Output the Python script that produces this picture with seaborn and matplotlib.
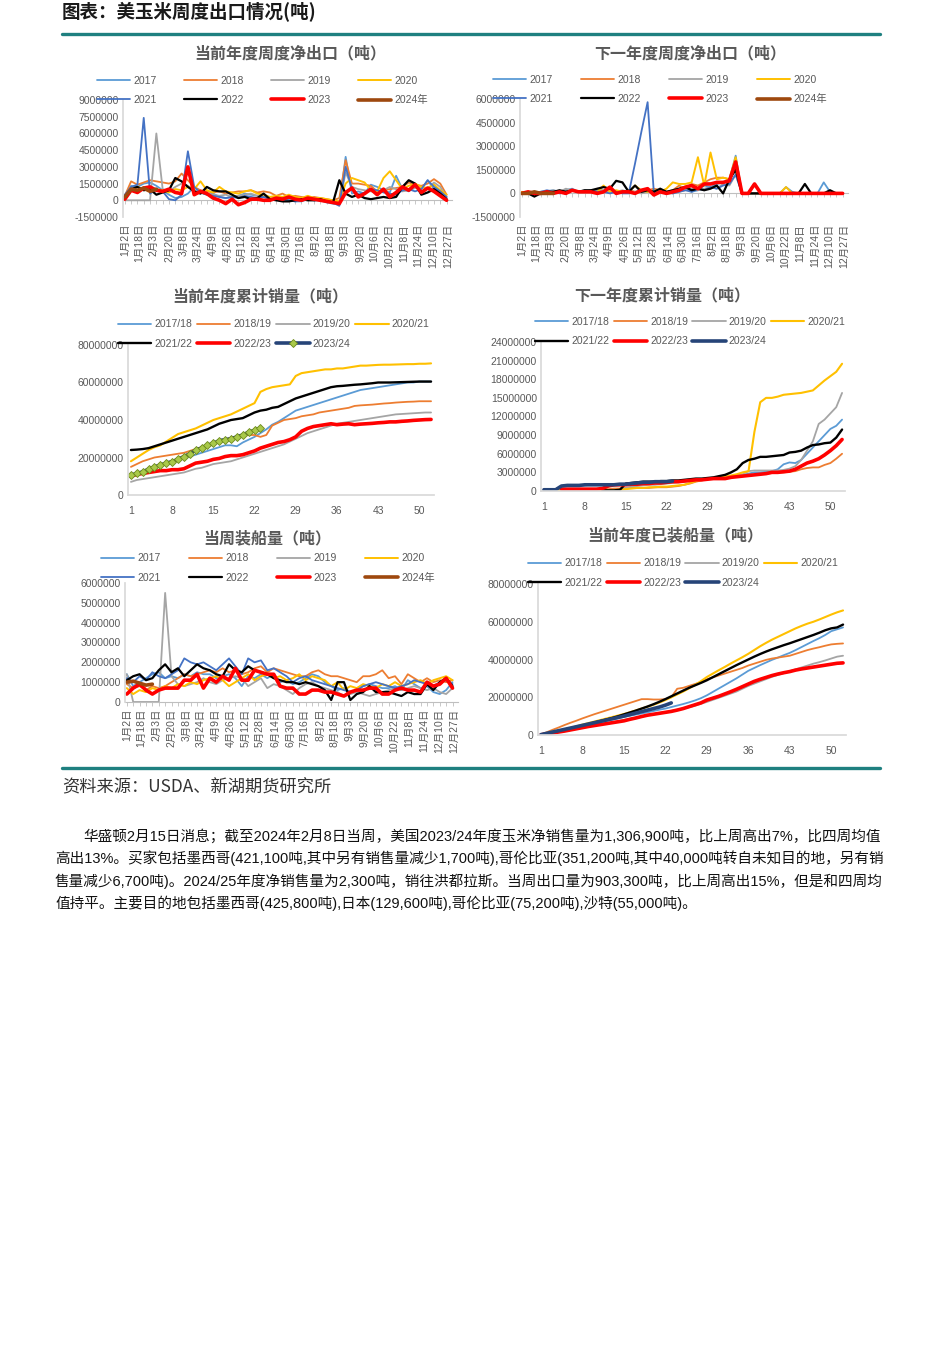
import re
import numpy as np
import pandas as pd
import seaborn as sns
import matplotlib.pyplot as plt
from matplotlib.lines import Line2D
from matplotlib.ticker import FuncFormatter

W, H = 950, 1345

# ---- labels ----
DATE_LABELS = ["1月2日", "1月18日", "2月3日", "2月20日", "3月8日", "3月24日", "4月9日",
               "4月26日", "5月12日", "5月28日", "6月14日", "6月30日", "7月16日", "8月2日",
               "8月18日", "9月3日", "9月20日", "10月6日", "10月22日", "11月8日", "11月24日",
               "12月10日", "12月27日"]
WEEK_TICKS = [1, 8, 15, 22, 29, 36, 43, 50]
WEEK_NAMES = ["2017", "2018", "2019", "2020", "2021", "2022", "2023", "2024年"]
CROP_NAMES = ["2017/18", "2018/19", "2019/20", "2020/21", "2021/22", "2022/23", "2023/24"]

# ---- 当前年度周度净出口 (千吨) ----
cur_2017 = [300, 1300, 1200, 1500, 1600, 1300, 900, 500, 200, 300,
            600, 1200, 700, 500, 600, 300, 200, 300, 400, 600,
            500, 400, 300, 300, 200, 100, 0, -100, -100, 100,
            0, 0, -200, -300, -400, 3900, 600, 800, 600, 1400,
            1200, 900, 700, 2200, 1000, 800, 1200, 1000, 1800, 1000,
            900, 200]
cur_2018 = [400, 1700, 1400, 1600, 1800, 1700, 1600, 1500, 1700, 2400,
            1800, 1200, 900, 800, 700, 800, 600, 700, 800, 800,
            900, 700, 800, 700, 400, 600, 300, 400, 300, 200,
            300, 200, 100, 0, 200, 3600, 1500, 1500, 1400, 1300,
            800, 900, 1000, 1100, 1200, 1600, 1400, 1300, 1500, 1900,
            1500, 500]
cur_2019 = [0, 0, 0, 0, 0, 6000, 1000, 800, 1200, 1500,
            1300, 900, 700, 600, 500, 400, 500, 300, 400, 500,
            600, 400, 300, 300, 200, 300, 200, 100, 100, 200,
            100, 0, -100, -200, -300, 2500, 1200, 1000, 900, 800,
            700, 900, 1200, 1000, 800, 900, 1100, 1200, 1000, 1600,
            1200, 300]
cur_2020 = [200, 900, 1200, 1000, 800, 1000, 900, 700, 1000, 900,
            1200, 1000, 1700, 900, 700, 1200, 800, 700, 600, 800,
            900, 600, 500, 300, 400, 300, 500, 300, 200, 400,
            200, 200, 100, 0, -100, 1500, 2000, 1800, 1600, 900,
            800, 2000, 2600, 1800, 1000, 1300, 1500, 1200, 1100, 1400,
            900, 500]
cur_2021 = [500, 1200, 1400, 7400, 600, 1000, 800, 100, 0, 500,
            4400, 1200, 700, 500, 400, 300, 200, 300, 200, 400,
            300, 200, 300, 100, 0, 200, 0, -100, 0, 100,
            0, 0, -100, -200, -500, 3000, 1000, 500, 700, 1000,
            900, 700, 600, 500, 900, 1000, 800, 1000, 1800, 1200,
            800, 300]
cur_2022 = [200, 1000, 1200, 900, 1000, 500, 700, 900, 2000, 1700,
            1200, 800, 600, 1200, 900, 800, 800, 500, 200, 300,
            100, 200, 600, 100, 0, -100, -100, 0, 100, 0,
            0, 100, -100, -200, 1800, 600, 300, 500, 200, 100,
            200, 300, 200, 300, 1200, 1800, 1500, 500, 700, 1000,
            600, 100]
cur_2023 = [100, 900, 700, 1100, 1200, 900, 800, 1000, 700, 600,
            3000, 500, 800, 600, 200, 0, -300, 100, -400, -200,
            100, 100, 0, 0, 200, 100, 300, 100, 0, 200,
            100, 0, -100, -200, -300, 700, 1100, 300, 600, 1000,
            500, 1000, 300, 700, 1200, 900, 1400, 700, 1100, 800,
            400, 0]
cur_2024 = [300, 1000, 900, 1100, 800, 1000]

# ---- 下一年度周度净出口 (千吨) ----
nxt_2017 = [0, 0, 0, 100, 150, 200, 100, 200, 300, 100,
            150, 100, 200, 150, 300, 100, 100, 150, 100, 200,
            100, 150, 200, 100, 100, 300, 400, 100, 200, 500,
            400, 600, 700, 900, 2400, 0, 0, 0, 0, 0,
            0, 0, 400, 100, 0, 0, 0, 0, 700, 100,
            0, 0]
nxt_2018 = [0, 0, 50, 100, 100, 100, 150, 100, 200, 150,
            100, 200, 100, 100, 150, 100, 100, 200, 100, 150,
            200, 300, 200, 100, 200, 500, 300, 600, 500, 700,
            900, 1000, 1000, 900, 1500, 0, 0, 0, 0, 0,
            0, 0, 0, 0, 0, 0, 0, 0, 0, 0,
            0, 0]
nxt_2019 = [0, 0, 0, 100, 100, 200, 100, 300, 200, 100,
            200, 100, 300, 200, 100, 100, 200, 100, 100, 0,
            100, 200, 100, 0, 0, 100, 200, 300, 200, 300,
            400, 300, 600, 500, 1200, 0, 0, 0, 0, 0,
            0, 0, 0, 0, 0, 0, 0, 0, 0, 0,
            0, 0]
nxt_2020 = [100, 0, 100, 0, 0, 100, 50, 100, 200, 100,
            100, 100, 100, 500, 100, 200, 100, 100, 500, 200,
            100, 200, 100, 300, 700, 600, 600, 700, 2300, 500,
            2600, 900, 1000, 900, 2300, 0, 0, 0, 0, 0,
            0, 0, 400, 0, 0, 0, 0, 0, 0, 0,
            0, 0]
nxt_2021 = [0, 0, 0, 100, 200, 100, 0, 100, 200, 100,
            100, 200, 100, 100, 0, 100, 0, 0, 1900, 3900,
            5800, 0, 100, 100, 0, 100, 200, 100, 300, 200,
            400, 300, 500, 600, 1200, 0, 0, 0, 0, 0,
            0, 0, 0, 0, 0, 0, 0, 0, 0, 0,
            0, 0]
nxt_2022 = [0, 0, -200, 0, 100, 100, 200, 100, 200, 100,
            200, 200, 300, 400, 300, 800, 700, 100, 500, 100,
            200, 100, 300, 100, 200, 300, 400, 200, 300, 200,
            300, 500, 0, 900, 1500, 0, 0, 0, 0, 0,
            0, 0, 0, 0, 0, 600, 0, 0, 0, 200,
            0, 0]
nxt_2023 = [0, 100, 0, 0, 100, 0, 100, 0, 200, 100,
            100, 100, 0, 100, 400, 0, 100, 100, 0, 200,
            300, -100, 100, 0, 100, 200, 400, 500, 300, 600,
            600, 700, 700, 800, 2000, 0, 0, 600, 0, 0,
            0, 0, 0, 0, 0, 0, 0, 0, 0, 0,
            0, 0]
nxt_2024 = [0, 0, 100, 0, 0, 0]

# ---- 当周装船量 (千吨) ----
shp_2017 = [1400, 800, 1000, 1200, 1400, 1500, 1200, 1300, 1200, 1400,
            1300, 1500, 1400, 1400, 1200, 1300, 1400, 1200, 800, 1300,
            1200, 1400, 1200, 1400, 1000, 1100, 900, 1000, 1200, 1400,
            1300, 1000, 800, 600, 700, 500, 600, 800, 900, 800,
            700, 700, 800, 600, 1100, 900, 700, 800, 500, 400,
            600, 1000]
shp_2018 = [900, 700, 800, 600, 800, 700, 800, 1000, 1200, 1400,
            1300, 1400, 1500, 1600, 1500, 1700, 1500, 1600, 1400, 1500,
            1700, 1800, 1500, 1700, 1600, 1500, 1400, 1300, 1300, 1500,
            1600, 1400, 1300, 1300, 1200, 1100, 1000, 1300, 1300, 1400,
            1600, 1200, 1300, 900, 1400, 1200, 1000, 1200, 1000, 1100,
            1000, 1100]
shp_2019 = [1400, 0, 0, 0, 0, 0, 5500, 1300, 900, 800,
            900, 1000, 1200, 1000, 900, 1100, 1200, 1300, 1200, 800,
            1000, 1200, 700, 900, 800, 600, 400, 700, 900, 1000,
            800, 700, 600, 500, 300, 400, 500, 400, 300, 400,
            500, 600, 700, 600, 700, 800, 700, 600, 700, 500,
            400, 700]
shp_2020 = [700, 400, 600, 500, 700, 600, 800, 700, 900, 800,
            1000, 900, 1100, 1200, 1300, 1100, 800, 1000, 1200, 1400,
            1100, 1300, 1400, 1200, 1300, 1100, 1200, 1400, 1100, 1300,
            1200, 1100, 800, 1000, 600, 800, 700, 900, 800, 700,
            900, 800, 1000, 800, 900, 1000, 1100, 900, 1100, 1200,
            1300, 1100]
shp_2021 = [1200, 1000, 1300, 1100, 1500, 1300, 1200, 1400, 1600, 2200,
            2000, 1900, 2000, 1800, 1600, 1900, 2200, 1800, 1400, 2200,
            2000, 2100, 1600, 1700, 1500, 1300, 1000, 1200, 1300, 1100,
            1000, 900, 800, 700, 600, 500, 600, 800, 900, 1000,
            900, 800, 700, 800, 900, 1100, 1000, 900, 800, 1000,
            1100, 900]
shp_2022 = [1100, 1300, 1400, 1100, 1200, 1600, 1900, 1500, 1700, 1300,
            1600, 1900, 1700, 1600, 1400, 1300, 1900, 1600, 1500, 1800,
            1600, 1500, 1400, 1200, 1100, 1000, 1000, 900, 1000, 900,
            800, 600, 100, 1000, 1000, 100, 400, 500, 800, 500,
            500, 500, 400, 300, 500, 400, 400, 900, 600, 1000,
            1200, 800]
shp_2023 = [400, 700, 900, 600, 400, 600, 700, 700, 700, 1100,
            1100, 1400, 700, 1200, 1000, 1300, 1100, 1700, 1100, 1100,
            1600, 1500, 1400, 1400, 800, 700, 700, 400, 400, 600,
            600, 500, 500, 400, 300, 500, 600, 600, 700, 700,
            400, 400, 600, 700, 600, 600, 500, 1000, 800, 900,
            1200, 700]
shp_2024 = [1000, 1050, 950, 850, 900]

# ---- 当前年度累计销量 (百万吨) ----
cs_1718 = [11.0, 11.8, 12.5, 13.5, 14.5, 15.5, 16.5, 17.5, 18.5, 19.5,
           20.5, 21.5, 22.5, 23.5, 24.5, 25.5, 26.5, 26.5, 26.0, 28.0,
           29.5, 31.0, 33.0, 35.0, 37.5, 39.0, 41.0, 43.0, 45.0, 46.0,
           47.0, 48.0, 49.0, 50.0, 51.0, 52.0, 53.0, 54.0, 55.0, 56.0,
           56.5, 57.0, 57.5, 58.0, 58.5, 59.0, 59.5, 60.0, 60.0, 60.5,
           60.5, 60.5]
cs_1819 = [15.0, 16.5, 18.0, 19.0, 20.0, 20.5, 21.0, 21.5, 22.0, 22.5,
           23.5, 24.5, 25.5, 26.5, 27.5, 28.5, 29.5, 30.5, 31.0, 31.5,
           32.0, 32.0, 31.0, 32.0, 37.0, 38.5, 40.0, 40.5, 41.0, 42.0,
           42.5, 43.0, 44.0, 44.5, 45.0, 45.5, 46.0, 46.5, 47.5, 47.8,
           48.0, 48.2, 48.5, 48.8, 49.0, 49.3, 49.5, 49.7, 49.8, 50.0,
           50.0, 50.0]
cs_1920 = [7.0, 8.0, 8.5, 9.0, 9.5, 10.0, 10.5, 11.0, 11.5, 12.0,
           13.0, 14.0, 14.5, 15.5, 16.5, 17.0, 17.5, 18.0, 19.0, 20.0,
           21.0, 22.0, 23.0, 24.0, 25.0, 26.0, 27.0, 28.5, 30.0, 31.5,
           33.0, 34.0, 35.0, 36.0, 37.0, 38.0, 38.5, 39.0, 39.5, 40.0,
           40.5, 41.0, 41.5, 42.0, 42.5, 43.0, 43.2, 43.4, 43.6, 43.8,
           44.0, 44.0]
cs_2021 = [18.0, 20.0, 22.0, 24.0, 25.5, 26.5, 28.5, 30.5, 32.5, 33.5,
           34.5, 35.5, 37.0, 38.5, 40.0, 41.0, 42.0, 43.0, 44.5, 46.0,
           47.5, 49.0, 55.0, 56.5, 57.5, 58.0, 58.5, 59.0, 63.5, 65.0,
           65.5, 66.0, 66.5, 67.0, 67.0, 67.5, 67.5, 68.0, 68.5, 69.0,
           69.0, 69.2, 69.4, 69.5, 69.5, 69.6, 69.7, 69.8, 69.8, 70.0,
           70.0, 70.2]
cs_2122 = [24.0, 24.2, 24.5, 25.0, 26.0, 27.0, 28.0, 29.0, 30.0, 31.0,
           32.0, 33.0, 34.0, 35.0, 36.5, 38.0, 39.0, 40.0, 40.5, 41.0,
           42.5, 44.0, 45.0, 45.5, 46.5, 47.0, 48.5, 50.0, 51.5, 52.5,
           53.5, 54.5, 55.5, 56.5, 57.5, 58.0, 58.2, 58.5, 58.8, 59.0,
           59.3, 59.6, 60.0, 60.0, 60.0, 60.1, 60.2, 60.3, 60.4, 60.5,
           60.5, 60.5]
cs_2223 = [10.0, 11.0, 11.5, 12.0, 12.5, 13.0, 13.0, 13.5, 13.5, 14.0,
           15.5, 17.0, 17.5, 18.0, 19.0, 19.5, 20.5, 21.0, 21.0, 21.5,
           22.5, 23.5, 25.0, 26.0, 27.0, 28.0, 28.5, 29.5, 31.0, 34.0,
           35.5, 36.5, 37.0, 37.5, 38.0, 37.5, 37.8, 38.0, 37.5, 37.8,
           38.0, 38.2, 38.5, 38.7, 39.0, 39.0, 39.3, 39.5, 39.8, 40.0,
           40.2, 40.3]
cs_2324 = [10.5, 11.5, 12.3, 13.8, 15.0, 16.0, 17.0, 17.8, 19.0, 20.5,
           22.0, 24.0, 25.0, 26.5, 27.5, 29.0, 29.5, 30.0, 31.0, 32.0,
           33.5, 34.5, 35.8]

# ---- 下一年度累计销量 (百万吨) ----
ns_1718 = [0.3, 0.3, 0.3, 0.8, 0.9, 0.9, 0.9, 0.9, 1.0, 1.0,
           1.0, 1.0, 1.0, 1.0, 1.1, 1.2, 1.3, 1.3, 1.4, 1.4,
           1.5, 1.5, 1.5, 1.6, 1.6, 1.7, 1.8, 1.9, 2.0, 2.1,
           2.2, 2.3, 2.4, 2.5, 2.6, 2.8, 3.0, 3.0, 3.1, 3.2,
           3.5, 4.3, 4.6, 4.5, 5.0, 6.0, 7.0, 8.0, 9.0, 10.0,
           10.5, 11.5]
ns_1819 = [0.3, 0.3, 0.3, 0.3, 0.3, 0.3, 0.3, 0.3, 0.3, 0.3,
           0.3, 0.3, 0.4, 0.4, 0.5, 0.5, 0.5, 0.5, 0.5, 0.6,
           0.6, 0.6, 0.7, 0.8, 1.0, 1.2, 1.5, 1.7, 1.9, 2.0,
           2.1, 2.2, 2.3, 2.4, 2.5, 2.5, 2.6, 2.7, 2.8, 2.9,
           3.0, 3.0, 3.1, 3.2, 3.5, 3.7, 3.8, 3.8, 4.2, 4.5,
           5.2, 6.0]
ns_1920 = [0.1, 0.1, 0.1, 0.1, 0.1, 0.1, 0.1, 0.1, 0.1, 0.1,
           0.1, 0.1, 0.1, 0.2, 0.5, 0.7, 0.8, 0.9, 1.0, 1.0,
           1.1, 1.2, 1.3, 1.4, 1.5, 1.6, 1.7, 1.8, 1.9, 2.0,
           2.1, 2.2, 2.3, 2.5, 2.7, 3.2, 3.3, 3.3, 3.3, 3.3,
           3.3, 3.4, 3.6, 4.0, 5.0, 6.5, 8.0, 10.8, 11.5, 12.5,
           13.5, 15.8]
ns_2021 = [0.1, 0.1, 0.1, 0.1, 0.1, 0.1, 0.1, 0.1, 0.1, 0.1,
           0.1, 0.1, 0.1, 0.2, 0.3, 0.4, 0.5, 0.5, 0.6, 0.6,
           0.7, 0.7, 0.8, 0.9, 1.0, 1.3, 1.6, 1.8, 2.0, 2.1,
           2.2, 2.3, 2.5, 2.7, 3.0, 3.2, 9.5, 14.3, 15.0, 15.0,
           15.2, 15.5, 15.6, 15.7, 15.8, 16.0, 16.2, 17.0, 17.8, 18.5,
           19.2, 20.5]
ns_2122 = [None, None, None, None, None, None, None, None, None, None,
           0.1, 0.1, 0.1, 0.2, 1.2, 1.3, 1.4, 1.5, 1.5, 1.5,
           1.6, 1.6, 1.7, 1.7, 1.8, 1.9, 2.0, 2.0, 2.1, 2.2,
           2.4, 2.6, 3.0, 3.5, 4.5, 5.0, 5.2, 5.5, 5.5, 5.6,
           5.7, 5.8, 6.2, 6.3, 6.5, 7.0, 7.4, 7.5, 7.7, 7.8,
           8.6, 9.9]
ns_2223 = [None, None, None, 0.3, 0.3, 0.3, 0.3, 0.3, 0.3, 0.3,
           0.4, 0.8, 1.0, 1.0, 1.0, 1.1, 1.1, 1.2, 1.2, 1.3,
           1.3, 1.4, 1.5, 1.5, 1.6, 1.7, 1.8, 1.8, 1.9, 2.0,
           2.0, 2.0, 2.2, 2.3, 2.4, 2.5, 2.6, 2.7, 2.8, 3.0,
           3.0, 3.1, 3.2, 3.5, 4.0, 4.5, 4.8, 5.2, 5.8, 6.5,
           7.3, 8.3]
ns_2324 = [0.2, 0.2, 0.2, 0.8, 0.9, 0.9, 0.9, 1.0, 1.0, 1.0,
           1.0, 1.0, 1.0, 1.1, 1.1, 1.2, 1.3, 1.4, 1.4, 1.5,
           1.5, 1.5, 1.6]

# ---- 当前年度已装船量 (百万吨) ----
sh_1718 = [0.2, 0.8, 1.4, 2.0, 2.7, 3.3, 4.0, 4.6, 5.3, 6.0,
           6.7, 7.4, 8.1, 8.8, 9.6, 10.2, 10.8, 11.4, 12.0, 12.7,
           13.4, 14.0, 14.8, 15.6, 16.4, 17.3, 18.3, 19.5, 21.0, 22.8,
           24.6, 26.4, 28.2, 30.0, 32.0, 34.0, 35.5, 37.0, 38.4, 39.8,
           41.0, 42.3, 43.5, 45.0, 46.6, 48.2, 49.8, 51.3, 53.0, 55.0,
           56.0, 57.0]
sh_1819 = [0.3, 1.5, 2.8, 4.0, 5.3, 6.5, 7.6, 8.8, 9.9, 11.0,
           12.0, 13.0, 14.0, 15.0, 16.0, 17.0, 18.0, 19.0, 19.0, 18.8,
           18.8, 19.0, 20.0, 24.5, 25.0, 26.0, 27.0, 28.0, 29.5, 30.5,
           31.5, 32.5, 33.5, 34.5, 35.5, 36.8, 37.8, 38.8, 39.8, 40.5,
           41.0, 41.5, 42.0, 43.0, 44.0, 45.0, 45.8, 46.5, 47.3, 48.0,
           48.3, 48.5]
sh_1920 = [0.1, 0.5, 1.0, 1.5, 2.0, 2.6, 3.2, 3.8, 4.4, 5.0,
           5.6, 6.2, 6.8, 7.4, 8.0, 8.6, 9.2, 9.8, 10.4, 11.0,
           11.6, 12.2, 12.8, 13.4, 14.0, 14.7, 15.5, 16.5, 17.5, 18.6,
           19.7, 20.8, 21.9, 23.0, 24.5, 26.0, 27.2, 28.4, 29.6, 30.8,
           31.8, 32.8, 33.8, 34.8, 35.8, 36.8, 37.8, 38.6, 39.5, 40.5,
           41.5, 42.0]
sh_2021 = [0.2, 0.9, 1.6, 2.3, 3.0, 3.8, 4.6, 5.5, 6.3, 7.1,
           7.9, 8.7, 9.5, 10.3, 11.1, 12.0, 13.0, 14.0, 15.0, 16.0,
           17.2, 18.5, 20.0, 21.5, 23.0, 24.7, 26.5, 28.5, 30.7, 32.5,
           34.3, 36.0, 37.8, 39.5, 41.2, 43.0, 45.0, 47.0, 48.8, 50.5,
           52.0, 53.5, 55.0, 56.5, 57.8, 59.0, 60.0, 61.2, 62.5, 63.8,
           65.0, 66.0]
sh_2122 = [0.2, 0.8, 1.5, 2.1, 2.8, 3.5, 4.2, 5.0, 5.8, 6.6,
           7.4, 8.2, 9.0, 9.9, 10.9, 11.9, 12.9, 14.0, 15.1, 16.3,
           17.6, 19.0, 20.5, 22.0, 23.5, 25.0, 26.3, 27.6, 29.0, 30.6,
           32.2, 33.8, 35.4, 37.0, 38.5, 40.0, 41.5, 42.9, 44.2, 45.4,
           46.5, 47.6, 48.6, 49.7, 50.8, 51.9, 53.0, 54.2, 55.5, 56.5,
           57.0, 58.5]
sh_2223 = [0.1, 0.6, 1.1, 1.6, 2.1, 2.7, 3.3, 3.9, 4.5, 5.0,
           5.5, 6.0, 6.5, 7.0, 7.5, 8.3, 9.0, 9.8, 10.5, 11.0,
           11.5, 12.0, 12.5, 13.2, 14.0, 15.0, 16.0, 17.0, 18.5, 19.5,
           20.5, 21.7, 22.9, 24.2, 25.6, 27.0, 28.4, 29.5, 30.5, 31.5,
           32.3, 33.0, 33.6, 34.4, 35.0, 35.5, 36.0, 36.5, 37.0, 37.5,
           38.0, 38.2]
sh_2324 = [0.2, 0.9, 1.6, 2.3, 3.0, 3.7, 4.4, 5.1, 5.8, 6.5,
           7.2, 7.9, 8.6, 9.3, 10.0, 10.8, 11.6, 12.4, 13.2, 14.0,
           14.8, 15.8, 17.0]

PARAGRAPH = [
    "华盛顿2月15日消息；截至2024年2月8日当周，美国2023/24年度玉米净销售量为1,306,900吨，比上周高出7%，比四周均值",
    "高出13%。买家包括墨西哥(421,100吨,其中另有销售量减少1,700吨),哥伦比亚(351,200吨,其中40,000吨转自未知目的地，另有销",
    "售量减少6,700吨)。2024/25年度净销售量为2,300吨，销往洪都拉斯。当周出口量为903,300吨，比上周高出15%，但是和四周均",
    "值持平。主要目的地包括墨西哥(425,800吨),日本(129,600吨),哥伦比亚(75,200吨),沙特(55,000吨)。",
]

WEEK_COLORS = ["#5b9bd5", "#ed7d31", "#a5a5a5", "#ffc000", "#4472c4", "#000000", "#ff0000", "#9e480e"]
WEEK_WIDTHS = [1.3, 1.3, 1.3, 1.4, 1.3, 1.6, 2.6, 2.6]
CROP_COLORS = ["#5b9bd5", "#ed7d31", "#a5a5a5", "#ffc000", "#000000", "#ff0000", "#264478"]
CROP_WIDTHS = [1.3, 1.3, 1.3, 1.5, 1.7, 2.6, 2.6]
GREY = "#595959"
TEAL = "#1f8080"

sns.set_theme(style="white")
plt.rcParams["font.family"] = ["Liberation Sans", "Noto Sans CJK SC", "DejaVu Sans"]

fig = plt.figure(figsize=(W / 100, H / 100), dpi=100)


def px_rect(x0, y0, x1, y1):
    return [x0 / W, 1 - y1 / H, (x1 - x0) / W, (y1 - y0) / H]


def label_day(label):
    m, d = map(int, re.findall(r"\d+", label))
    return pd.Timestamp(2023, m, d).dayofyear


def style_axes(ax, yticks):
    sns.despine(ax=ax)
    ax.spines["left"].set_color("#d9d9d9")
    ax.spines["bottom"].set_color("#d9d9d9")
    ax.set_yticks(yticks)
    ax.set_ylim(yticks[0], yticks[-1])
    ax.yaxis.set_major_formatter(FuncFormatter(lambda v, p: f"{v:.0f}"))
    ax.tick_params(axis="both", length=0, labelsize=7.5, labelcolor=GREY)
    ax.tick_params(axis="y", pad=3)
    ax.set_xlabel("")
    ax.set_ylabel("")


def add_title(text, x, y):
    fig.text(x / W, 1 - y / H, text, ha="center", va="center", fontsize=11.5,
             fontweight="bold", color=GREY, family=["Noto Sans CJK SC"])


def add_legend(ax, x, y1, y2, colsp):
    handles, labels = ax.get_legend_handles_labels()
    n = len(handles)
    order = [r * 4 + c for c in range(4) for r in range(2) if r * 4 + c < n]
    ax.legend([handles[i] for i in order], [labels[i] for i in order], ncol=4,
              loc="center left", bbox_to_anchor=(x / W, 1 - (y1 + y2) / 2 / H),
              bbox_transform=fig.transFigure, frameon=False, fontsize=7.5,
              handlelength=3.2, handletextpad=0.3, columnspacing=colsp,
              labelspacing=0.9, borderpad=0, borderaxespad=0, labelcolor=GREY)


def weekly_panel(rect, data, yticks, title, title_xy, leg):
    ax = fig.add_axes(px_rect(*rect))
    for name, vals, color, lw in zip(WEEK_NAMES, data, WEEK_COLORS, WEEK_WIDTHS):
        tons = np.asarray(vals, dtype=float) * 1000
        days = 2 + 7 * np.arange(len(tons))
        sns.lineplot(x=days, y=tons, ax=ax, color=color, linewidth=lw, label=name)
    style_axes(ax, yticks)
    ax.set_xlim(0, 365)
    ax.spines["bottom"].set_visible(False)
    ax.set_xticks([label_day(s) for s in DATE_LABELS], DATE_LABELS, rotation=90, fontsize=7.5)
    ax.tick_params(axis="x", pad=5)
    # axis line through zero with small weekly tick marks
    zero = (0 - yticks[0]) / (yticks[-1] - yticks[0])
    sec = ax.secondary_xaxis(zero)
    sec.set_xticks(2 + 7 * np.arange(52))
    sec.tick_params(labelbottom=False, labeltop=False, length=3, width=0.6, color="#bfbfbf")
    for s in sec.spines.values():
        s.set_color("#bfbfbf")
        s.set_linewidth(0.8)
    add_title(title, *title_xy)
    add_legend(ax, *leg)
    return ax


def crop_panel(rect, data, yticks, title, title_xy, leg, markers=False):
    ax = fig.add_axes(px_rect(*rect))
    for name, vals, color, lw in zip(CROP_NAMES, data, CROP_COLORS, CROP_WIDTHS):
        tons = np.asarray(vals, dtype=float) * 1e6
        weeks = np.arange(1, len(tons) + 1)
        kw = {}
        if markers and name == "2023/24":
            kw = dict(marker="D", markersize=4.5, markerfacecolor="#a9c94a",
                      markeredgecolor="#6d8a1c", markeredgewidth=0.6)
        sns.lineplot(x=weeks, y=tons, ax=ax, color=color, linewidth=lw, label=name, **kw)
    style_axes(ax, yticks)
    ax.set_xlim(0.5, 52.5)
    ax.set_xticks(WEEK_TICKS)
    ax.tick_params(axis="x", pad=8)
    add_title(title, *title_xy)
    add_legend(ax, *leg)
    return ax


weekly_panel((123, 100, 452, 217),
             [cur_2017, cur_2018, cur_2019, cur_2020, cur_2021, cur_2022, cur_2023, cur_2024],
             np.arange(-1_500_000, 9_000_001, 1_500_000), "当前年度周度净出口（吨）", (290, 53),
             (97, 81, 100, 2.6))
weekly_panel((520, 99, 848, 217),
             [nxt_2017, nxt_2018, nxt_2019, nxt_2020, nxt_2021, nxt_2022, nxt_2023, nxt_2024],
             np.arange(-1_500_000, 6_000_001, 1_500_000), "下一年度周度净出口（吨）", (690, 53),
             (493, 80, 99, 2.7))
crop_panel((128, 345, 434, 495),
           [cs_1718, cs_1819, cs_1920, cs_2021, cs_2122, cs_2223, cs_2324],
           np.arange(0, 80_000_001, 20_000_000), "当前年度累计销量（吨）", (260, 296),
           (118, 324, 344, 0.45), markers=True)
crop_panel((541, 342, 845, 491),
           [ns_1718, ns_1819, ns_1920, ns_2021, ns_2122, ns_2223, ns_2324],
           np.arange(0, 24_000_001, 3_000_000), "下一年度累计销量（吨）", (662, 295),
           (535, 322, 341, 0.4))
weekly_panel((125, 583, 458, 702),
             [shp_2017, shp_2018, shp_2019, shp_2020, shp_2021, shp_2022, shp_2023, shp_2024],
             np.arange(0, 6_000_001, 1_000_000), "当周装船量（吨）", (267, 538),
             (101, 558, 578, 2.7))
crop_panel((538, 584, 846, 735),
           [sh_1718, sh_1819, sh_1920, sh_2021, sh_2122, sh_2223, sh_2324],
           np.arange(0, 80_000_001, 20_000_000), "当前年度已装船量（吨）", (675, 535),
           (528, 563, 583, 0.4))

# header, rules, source and commentary
fig.text(62 / W, 1 - 12 / H, "图表：美玉米周度出口情况(吨)", ha="left", va="center",
         fontsize=13.3, fontweight="bold", color="#1a1a1a", family=["Noto Sans CJK SC"])
for y in (34, 768):
    fig.add_artist(Line2D([62 / W, 880 / W], [1 - y / H] * 2, color=TEAL, lw=2.4))
fig.text(62 / W, 1 - 787 / H, "资料来源：USDA、新湖期货研究所", ha="left", va="center",
         fontsize=12.4, color="#333333", family=["Noto Sans CJK SC"])
for i, line in enumerate(PARAGRAPH):
    x0 = 83 if i == 0 else 55
    fig.text(x0 / W, 1 - (836 + 22.5 * i) / H, line, ha="left", va="center",
             fontsize=10.5, color="#111111")

fig.savefig("out.png", dpi=100, facecolor="white")
